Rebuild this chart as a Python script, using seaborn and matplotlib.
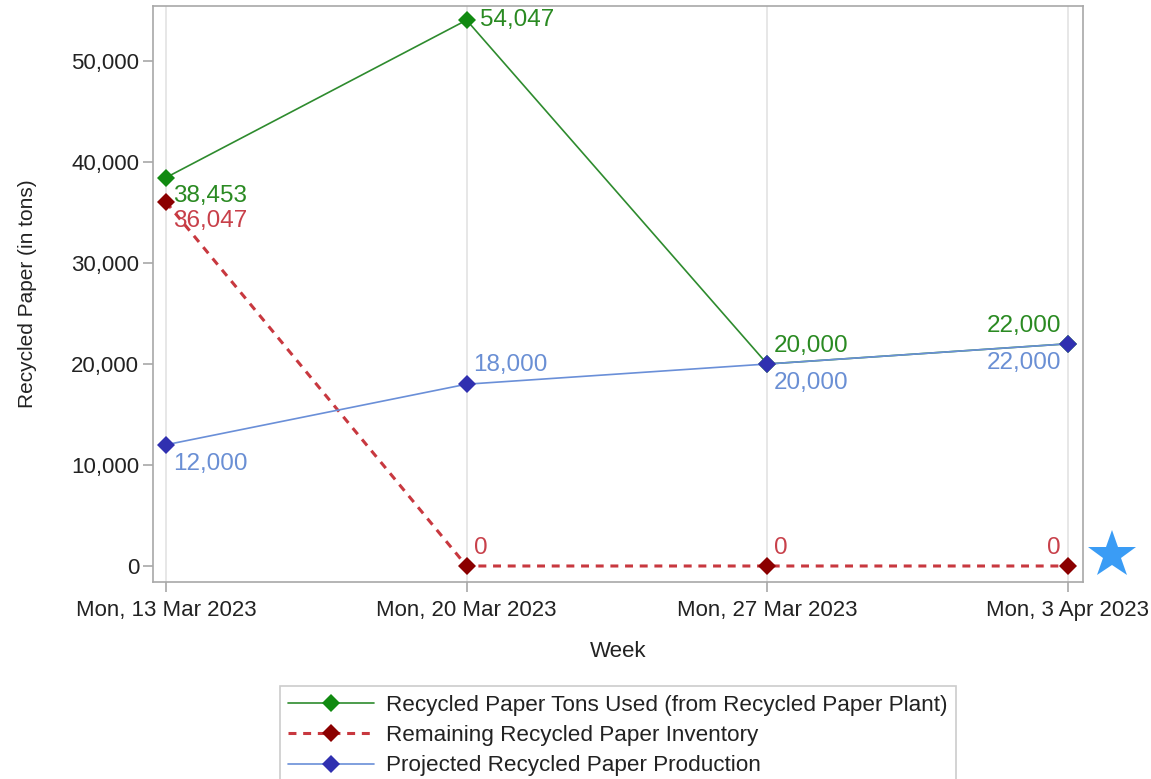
import numpy as np
import matplotlib
matplotlib.use("Agg")
import matplotlib.pyplot as plt
import seaborn as sns
from matplotlib.lines import Line2D
from matplotlib.ticker import FuncFormatter, MultipleLocator

# Weekly recycled paper figures
weeks = ["Mon, 13 Mar 2023", "Mon, 20 Mar 2023", "Mon, 27 Mar 2023", "Mon, 3 Apr 2023"]
tons_used = [38453, 54047, 20000, 22000]
inventory = [36047, 0, 0, 0]
production = [12000, 18000, 20000, 22000]

series_names = [
    "Recycled Paper Tons Used (from Recycled Paper Plant)",
    "Remaining Recycled Paper Inventory",
    "Projected Recycled Paper Production",
]

sns.set_theme(style="white")
plt.rcParams["font.family"] = ["Liberation Sans", "DejaVu Sans"]

fig = plt.figure(figsize=(11.51, 7.79), dpi=100)
ax = fig.add_axes([0.1329, 0.2529, 0.9409 - 0.1329, 0.9923 - 0.2529])

x = np.arange(len(weeks))

styles = [
    dict(values=tons_used, line="#2e8b2e", marker="#118a11", label="#2a8a22", ls="-", lw=1.2),
    dict(values=inventory, line="#c8383f", marker="#8b0000", label="#c8404a", ls=(0, (2.6, 2.2)), lw=2.2),
    dict(values=production, line="#6a8fd8", marker="#3030b0", label="#6a8fd4", ls="-", lw=1.2),
]

for s in styles:
    sns.lineplot(x=x, y=s["values"], ax=ax, color=s["line"], linewidth=s["lw"],
                 linestyle=s["ls"], marker="D", markersize=9,
                 markerfacecolor=s["marker"], markeredgecolor=s["marker"],
                 markeredgewidth=0, zorder=3)

# Value label offsets (points) and alignment for each series
UP, DN = 13, -13.5
label_offsets = [
    [(5, DN, "left"), (10, 0, "left"), (5, UP, "left"), (-5, UP, "right")],
    [(5, DN, "left"), (5, UP, "left"), (5, UP, "left"), (-5, UP, "right")],
    [(5, DN, "left"), (5, UP + 1, "left"), (5, DN, "left"), (-5, DN, "right")],
]

for s, offs in zip(styles, label_offsets):
    for xi, v, (dx, dy, ha) in zip(x, s["values"], offs):
        ax.annotate(f"{v:,.0f}", (xi, v), xytext=(dx, dy), textcoords="offset points",
                    ha=ha, va="center", fontsize=17.5, color=s["label"], zorder=4)

ax.set_xlim(-0.043, 3.05)
ax.set_ylim(-1584, 55445)
ax.set_xticks(x)
ax.set_xticklabels(weeks)
ax.yaxis.set_major_locator(MultipleLocator(10000))
ax.yaxis.set_major_formatter(FuncFormatter(lambda v, p: f"{v:,.0f}"))

ax.grid(axis="x", color="#e3e3e3", linewidth=1.2)
ax.grid(axis="y", visible=False)
for sp in ax.spines.values():
    sp.set_color("#a8a8a8")
    sp.set_linewidth(1.2)
ax.tick_params(axis="both", which="major", length=7, width=1.2, color="#a8a8a8",
               labelsize=16, labelcolor="#222222", direction="out", bottom=True, left=True, pad=3)
ax.tick_params(axis="x", pad=6)

ax.set_xlabel("Week", fontsize=16, color="#222222")
ax.set_ylabel("Recycled Paper (in tons)", fontsize=15, color="#222222")
ax.xaxis.set_label_coords(0.5, -0.103)
ax.yaxis.set_label_coords(-0.125, 0.5)

handles = [
    Line2D([], [], color=s["line"], linewidth=s["lw"], linestyle=s["ls"], marker="D",
           markersize=9, markerfacecolor=s["marker"], markeredgecolor=s["marker"], markeredgewidth=0)
    for s in styles
]
leg = fig.legend(handles, series_names, loc="upper center", bbox_to_anchor=(618 / 1151, 1 - 686 / 779),
                 fontsize=16.2, frameon=True, fancybox=False, handlelength=3.8, handletextpad=0.55,
                 labelspacing=0.42, borderpad=0.38, borderaxespad=0)
leg.get_frame().set_edgecolor("#bfbfbf")
leg.get_frame().set_linewidth(1.2)
for t in leg.get_texts():
    t.set_color("#222222")

# Star badge beside the plot
ax.plot([1.031], [0.047], transform=ax.transAxes, marker="*", markersize=36,
        color="#3a9cf5", markeredgewidth=0, clip_on=False, linestyle="none")

fig.savefig("out.png", dpi=100)
